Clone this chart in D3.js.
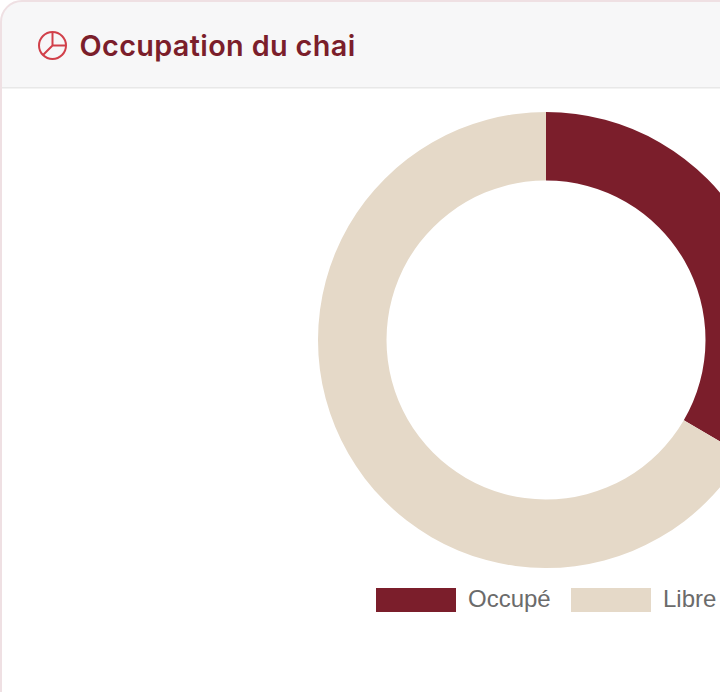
<!DOCTYPE html>
<html><head><meta charset="utf-8">
<script src="https://cdn.jsdelivr.net/npm/d3@7"></script>
<style>html,body{margin:0;padding:0;background:#fff;overflow:hidden}svg{display:block}</style>
</head><body><div id="c"></div>
<script>
const title = "Occupation du chai";
const categories = ["Occupé", "Libre"];
const values = [33.4, 66.6];
const colors = ["#7b1e2b", "#e5d9c8"];

const W = 720, H = 692;
const svg = d3.select("#c").append("svg").attr("width", W).attr("height", H);

// card
svg.append("path")
  .attr("d", "M1,692 V22 A21,21 0 0 1 22,1 H720 V87 H1 Z")
  .attr("fill", "#f7f7f8");
svg.append("path")
  .attr("d", "M1,692 V22 A21,21 0 0 1 22,1 H720")
  .attr("fill", "none").attr("stroke", "#efe0e3").attr("stroke-width", 2);
svg.append("rect").attr("x", 2).attr("y", 87).attr("width", 718).attr("height", 1.5).attr("fill", "#e8e8e8");

// icon
const ic = svg.append("g").attr("transform", "translate(52.5,45.5)")
  .attr("fill", "none").attr("stroke", "#d1404a").attr("stroke-width", 2);
ic.append("circle").attr("r", 13.5);
ic.append("path").attr("d", "M0,-13.5 V0 H13.5 M0,0 L-9.5,9.5");

svg.append("text").attr("x", 79.5).attr("y", 56)
  .attr("font-family", "Inter").attr("font-weight", 600).attr("font-size", 28.8)
  .attr("letter-spacing", 0.36)
  .attr("fill", "#7b1e2b").text(title);

// donut
const pie = d3.pie().sort(null).value(d => d)(values);
const arc = d3.arc().innerRadius(159.5).outerRadius(228);
const color = d3.scaleOrdinal().domain(categories).range(colors);
svg.append("g").attr("transform", "translate(546,340)")
  .selectAll("path").data(pie).join("path")
  .attr("d", arc).attr("fill", (d, i) => color(categories[i]));

// legend
const legendX = d3.scaleOrdinal().domain(categories).range([376, 571]);
const lg = svg.append("g").selectAll("g").data(categories).join("g")
  .attr("transform", d => `translate(${legendX(d)},588)`);
lg.append("rect").attr("width", 80).attr("height", 24).attr("fill", d => color(d));
lg.append("text").attr("x", 92).attr("y", 19)
  .attr("font-family", "Liberation Sans").attr("font-size", 24)
  .attr("fill", "#6b6b6b").text(d => d);
</script></body></html>
